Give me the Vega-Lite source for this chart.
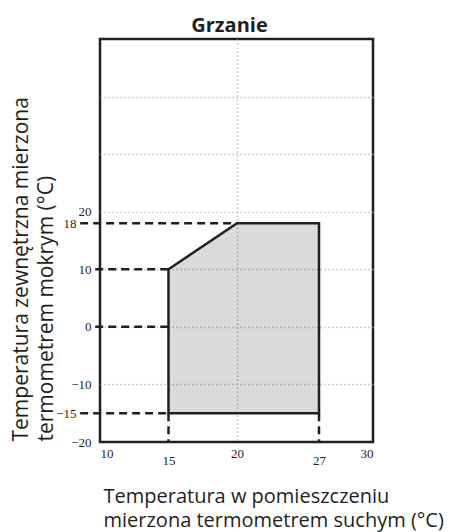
{
  "$schema": "https://vega.github.io/schema/vega-lite/v6.json",
  "width": 273,
  "height": 403,
  "autosize": {"type": "none"},
  "padding": {"left": 100, "top": 39, "right": 90, "bottom": 90},
  "background": "white",
  "title": {
    "text": "Grzanie",
    "font": "Open Sans",
    "fontSize": 20,
    "fontWeight": "bold",
    "color": "#231f20",
    "anchor": "middle",
    "frame": "group",
    "baseline": "alphabetic",
    "offset": 11,
    "dy": 24,
    "dx": -7
  },
  "config": {
    "view": {"stroke": "#231f20", "strokeWidth": 2.5},
    "axis": {
      "domain": false,
      "ticks": false,
      "labelFont": "Liberation Serif",
      "labelFontSize": 13,
      "labelColor": "#231f20",
      "titleFont": "Open Sans",
      "titleFontSize": 21,
      "titleFontWeight": "normal",
      "titleColor": "#231f20",
      "gridColor": "#bdbdbd",
      "gridWidth": 1.5,
      "gridDash": [1.5, 2.5]
    }
  },
  "datasets": {
    "zone": [
      {"tdb": 15, "twb_top": 10, "twb_bottom": -15},
      {"tdb": 20, "twb_top": 18, "twb_bottom": -15},
      {"tdb": 27, "twb_top": 18, "twb_bottom": -15}
    ],
    "hlines": [
      {"twb": 18, "tdb_start": 8.55, "tdb_end": 20},
      {"twb": 10, "tdb_start": 9.65, "tdb_end": 15},
      {"twb": 0, "tdb_start": 9.65, "tdb_end": 15},
      {"twb": -15, "tdb_start": 8.55, "tdb_end": 15}
    ],
    "vlines": [
      {"tdb": 15, "twb_start": -15, "twb_end": -20},
      {"tdb": 27, "twb_start": -15, "twb_end": -20}
    ]
  },
  "layer": [
    {
      "data": {"name": "zone"},
      "mark": {"type": "area", "fill": "#000000", "fillOpacity": 0.14, "stroke": "#231f20", "strokeWidth": 2.5, "strokeJoin": "miter"},
      "encoding": {
        "x": {
          "field": "tdb",
          "type": "quantitative",
          "scale": {"domain": [10, 20, 27, 30], "range": [0, 137, 219, 273], "nice": false, "zero": false},
          "axis": {
            "values": [10, 15, 20, 27, 30],
            "grid": true,
            "gridOpacity": {"condition": {"test": "datum.value === 20", "value": 1}, "value": 0},
            "labelPadding": {"condition": {"test": "datum.value === 15 || datum.value === 27", "value": 12}, "value": 5},
            "labelAngle": 0,
            "title": ["Temperatura w pomieszczeniu", "mierzona termometrem suchym (°C)"],
            "titleFontSize": 20,
            "titleAnchor": "start",
            "titleAlign": "left",
            "titleBaseline": "alphabetic",
            "titleX": 3,
            "titleY": 60,
            "titleLineHeight": 24
          }
        },
        "y": {
          "field": "twb_top",
          "type": "quantitative",
          "scale": {"domain": [-20, 50], "nice": false, "zero": false},
          "axis": {
            "values": [-20, -15, -10, 0, 10, 18, 20, 30, 40],
            "labelExpr": "datum.value >= 30 ? '' : datum.label",
            "grid": true,
            "gridOpacity": {"condition": {"test": "datum.value % 10 === 0 && datum.value > -20", "value": 1}, "value": 0},
            "labelPadding": {"condition": {"test": "datum.value === 18 || datum.value === -15", "value": 24}, "value": 9},
            "title": ["Temperatura zewnętrzna mierzona", "termometrem mokrym (°C)"],
            "titleAngle": -90,
            "titleAlign": "left",
            "titleBaseline": "alphabetic",
            "titleX": -73,
            "titleY": 402,
            "titleLineHeight": 25
          }
        },
        "y2": {"field": "twb_bottom"}
      }
    },
    {
      "data": {"name": "hlines"},
      "mark": {"type": "rule", "stroke": "#231f20", "strokeWidth": 2.5, "strokeDash": [8, 5]},
      "encoding": {
        "x": {"field": "tdb_start", "type": "quantitative"},
        "x2": {"field": "tdb_end"},
        "y": {"field": "twb", "type": "quantitative"}
      }
    },
    {
      "data": {"name": "vlines"},
      "mark": {"type": "rule", "stroke": "#231f20", "strokeWidth": 2.5, "strokeDash": [8, 5]},
      "encoding": {
        "x": {"field": "tdb", "type": "quantitative"},
        "y": {"field": "twb_start", "type": "quantitative"},
        "y2": {"field": "twb_end"}
      }
    }
  ]
}
